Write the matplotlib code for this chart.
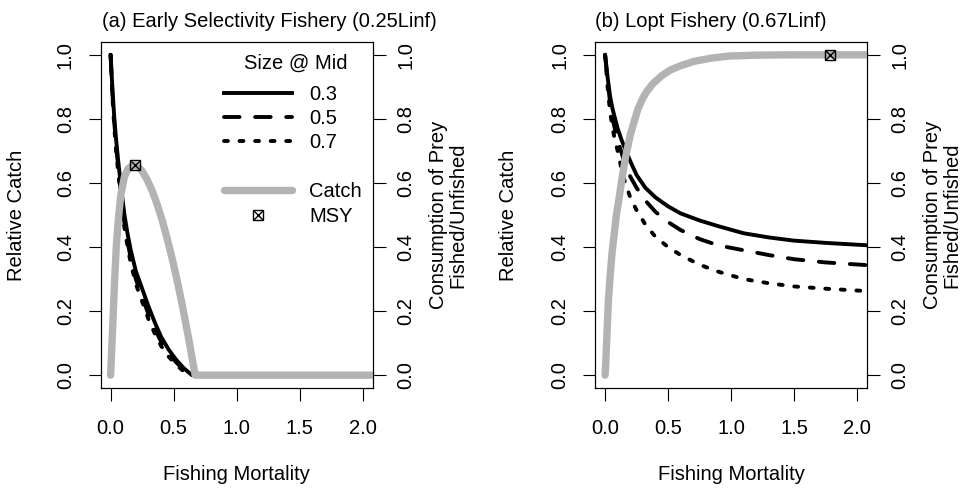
import matplotlib
matplotlib.use("Agg")
import matplotlib.pyplot as plt
from matplotlib.lines import Line2D

plt.rcParams['font.family'] = ['Liberation Sans', 'DejaVu Sans']
plt.rcParams['font.size'] = 14.5

# ---------------- data ----------------
# Panel (a): Early selectivity fishery
F_a = [0.0, 0.015, 0.03, 0.045, 0.06, 0.085, 0.11, 0.135, 0.16, 0.20, 0.25,
       0.30, 0.35, 0.40, 0.46, 0.52, 0.58, 0.645]
cons_a_03 = [1.00, 0.89, 0.80, 0.73, 0.67, 0.58, 0.50, 0.44, 0.39, 0.325, 0.27,
             0.215, 0.165, 0.12, 0.08, 0.048, 0.022, 0.0]
cons_a_05 = [1.00, 0.875, 0.785, 0.71, 0.65, 0.555, 0.475, 0.415, 0.365, 0.30, 0.245,
             0.19, 0.145, 0.105, 0.068, 0.04, 0.017, 0.0]
cons_a_07 = [1.00, 0.865, 0.77, 0.695, 0.635, 0.54, 0.46, 0.40, 0.35, 0.285, 0.23,
             0.175, 0.13, 0.092, 0.058, 0.032, 0.012, 0.0]
Fc_a = [0.0, 0.01, 0.02, 0.03, 0.045, 0.06, 0.08, 0.11, 0.14, 0.165, 0.19, 0.22,
        0.25, 0.29, 0.33, 0.37, 0.41, 0.45, 0.49, 0.53, 0.57, 0.61, 0.64, 0.67, 2.2]
catch_a = [0.0, 0.09, 0.18, 0.28, 0.40, 0.48, 0.56, 0.62, 0.645, 0.652, 0.656, 0.650,
           0.637, 0.61, 0.575, 0.532, 0.482, 0.424, 0.361, 0.291, 0.215, 0.133, 0.068,
           0.0, 0.0]
msy_a_F = [0.19]
msy_a_C = [0.656]

# Panel (b): Lopt fishery
F_b = [0.0, 0.02, 0.04, 0.06, 0.08, 0.10, 0.13, 0.16, 0.20, 0.25, 0.32, 0.40,
       0.50, 0.60, 0.75, 0.90, 1.10, 1.30, 1.50, 1.75, 2.10]
cons_b_03 = [1.00, 0.93, 0.87, 0.83, 0.80, 0.77, 0.735, 0.706, 0.668, 0.625, 0.585, 0.555,
             0.527, 0.505, 0.483, 0.465, 0.443, 0.43, 0.42, 0.413, 0.405]
cons_b_05 = [1.00, 0.92, 0.85, 0.80, 0.765, 0.735, 0.695, 0.657, 0.62, 0.585, 0.545, 0.51,
             0.478, 0.453, 0.425, 0.405, 0.39, 0.375, 0.362, 0.352, 0.343]
cons_b_07 = [1.00, 0.90, 0.82, 0.77, 0.73, 0.70, 0.645, 0.60, 0.555, 0.515, 0.47, 0.432,
             0.40, 0.375, 0.345, 0.323, 0.30, 0.287, 0.277, 0.27, 0.262]
Fc_b = [0.0, 0.005, 0.015, 0.026, 0.04, 0.055, 0.074, 0.09, 0.11, 0.135, 0.16, 0.20,
        0.26, 0.30, 0.33, 0.38, 0.45, 0.52, 0.60, 0.71, 0.85, 0.98, 1.2, 1.5, 1.79, 2.2]
catch_b = [0.0, 0.03, 0.13, 0.23, 0.31, 0.38, 0.446, 0.50, 0.55, 0.615, 0.675, 0.75,
           0.83, 0.865, 0.885, 0.91, 0.935, 0.953, 0.966, 0.98, 0.99, 0.996, 0.999,
           1.0, 1.0, 1.0]
msy_b_F = [1.79]
msy_b_C = [1.0]

titles = ["(a) Early Selectivity Fishery (0.25Linf)", "(b) Lopt Fishery (0.67Linf)"]
legend_title = "Size @ Mid"
size_labels = ["0.3", "0.5", "0.7"]
xticks = [0.0, 0.5, 1.0, 1.5, 2.0]
xticklabels = ["0.0", "0.5", "1.0", "1.5", "2.0"]
yticks = [0.0, 0.2, 0.4, 0.6, 0.8, 1.0]
yticklabels = ["0.0", "0.2", "0.4", "0.6", "0.8", "1.0"]

# ---------------- styles ----------------
GREY = "#B3B3B3"
BLW = 2.8
GLW = 5.3
styles = [dict(ls='-'), dict(ls=(0, (4, 4))), dict(ls=(0, (1, 3)))]

fig = plt.figure(figsize=(9.6, 4.9), dpi=100)
ax_a = fig.add_axes([100.5 / 960, 1 - 388 / 490, 272.5 / 960, 346 / 490])
ax_b = fig.add_axes([595 / 960, 1 - 388 / 490, 272 / 960, 346 / 490])

panels = [
    (ax_a, F_a, [cons_a_03, cons_a_05, cons_a_07], Fc_a, catch_a, msy_a_F, msy_a_C, -0.307),
    (ax_b, F_b, [cons_b_03, cons_b_05, cons_b_07], Fc_b, catch_b, msy_b_F, msy_b_C, -0.319),
]

for i, (ax, F, cons, Fc, catch, mF, mC, ylx) in enumerate(panels):
    for c, st in zip(cons, styles):
        ax.plot(F, c, color='black', lw=BLW, solid_capstyle='round',
                dash_capstyle='round', solid_joinstyle='round', zorder=2, **st)
    ax.plot(Fc, catch, color=GREY, lw=GLW, solid_capstyle='round',
            solid_joinstyle='round', zorder=3)
    ax.plot(mF, mC, marker='s', ms=7.5, mfc='none', mec='black', mew=1.0,
            ls='none', zorder=4)
    ax.plot(mF, mC, marker='x', ms=7.5, mec='black', mew=1.0, ls='none', zorder=4)

    ax.set_xlim(-0.08, 2.08)
    ax.set_ylim(-0.04, 1.04)
    ax.set_xticks(xticks)
    ax.set_xticklabels(xticklabels)
    ax.set_yticks(yticks)
    ax.set_yticklabels(yticklabels)
    ax.tick_params(axis='x', length=9, width=0.8, pad=13.5)
    ax.tick_params(axis='y', length=9, width=0.8, pad=9.5, labelrotation=90)
    for lbl in ax.get_yticklabels():
        lbl.set_va('center')
    for sp in ax.spines.values():
        sp.set_linewidth(0.8)

    ax2 = ax.twinx()
    ax2.set_ylim(-0.04, 1.04)
    ax2.set_yticks(yticks)
    ax2.set_yticklabels(yticklabels)
    ax2.tick_params(axis='y', length=9, width=0.8, pad=8, labelrotation=90)
    for lbl in ax2.get_yticklabels():
        lbl.set_va('center')

    ax.text(0.005 if i == 0 else 0.0, 1.058, titles[i], transform=ax.transAxes,
            ha='left', va='center')
    ax.text(0.5, -0.2514, "Fishing Mortality", transform=ax.transAxes,
            ha='center', va='center')
    ax.text(ylx, 0.5, "Relative Catch", transform=ax.transAxes,
            ha='center', va='center', rotation=90)
    ax.text(1.277, 0.5, "Consumption of Prey\nFished/Unfished", transform=ax.transAxes,
            ha='center', va='center', rotation=90, linespacing=1.0,
            multialignment='center')

# legend on panel (a)
handles = [Line2D([], [], color='black', lw=BLW, dash_capstyle='round', **st) for st in styles]
handles.append(Line2D([], [], color='none'))
handles.append(Line2D([], [], color=GREY, lw=GLW, solid_capstyle='round'))
msy_h = (Line2D([], [], marker='s', ms=6.5, mfc='none', mec='black', mew=1.0, ls='none'),
         Line2D([], [], marker='x', ms=6.5, mec='black', mew=1.0, ls='none'))
handles.append(msy_h)
labels = size_labels + [" ", "Catch", "MSY"]
leg = ax_a.legend(handles, labels, loc='upper left',
                  bbox_to_anchor=(0.452, 0.877), frameon=False, borderpad=0,
                  borderaxespad=0, handlelength=3.38, handletextpad=0.875,
                  labelspacing=0.27, fontsize=14.5)
leg.set_zorder(5)
ax_a.text(0.7174, 0.939, legend_title, transform=ax_a.transAxes,
          ha='center', va='center', zorder=5)

fig.savefig("out.png", dpi=100)
